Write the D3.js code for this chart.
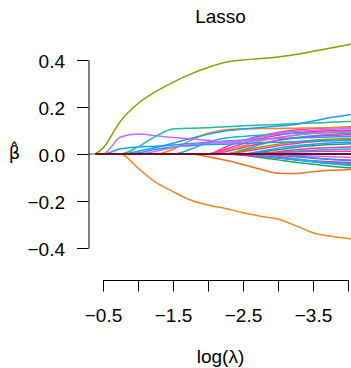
<!DOCTYPE html>
<html>
<head>
<meta charset="utf-8">
<script src="https://cdn.jsdelivr.net/npm/d3@7"></script>
<style>
    body { margin: 0; background: #fff; }
    svg { display: block; font-family: "Liberation Sans", Arial, sans-serif; }
</style>
</head>
<body>
<svg id="chart"></svg>
<script>
// log(lambda) grid shared by every coefficient path
const logLambda = [-0.39, -0.5, -0.75, -1, -1.25, -1.5, -1.75, -2, -2.25, -2.5, -2.75, -3, -3.25, -3.5, -3.75, -4, -4.1];

// coefficient paths (beta at each grid point)
const olive1 = [0, 0.025, 0.14, 0.215, 0.265, 0.305, 0.34, 0.368, 0.39, 0.4, 0.406, 0.413, 0.423, 0.437, 0.451, 0.465, 0.47];
const orange1 = [0, 0, 0, -0.06, -0.12, -0.16, -0.196, -0.217, -0.232, -0.25, -0.265, -0.277, -0.305, -0.335, -0.35, -0.36, -0.365];
const orangeRed = [0, 0, 0, 0, 0, 0, 0, -0.012, -0.027, -0.045, -0.065, -0.082, -0.083, -0.075, -0.069, -0.066, -0.065];
const purpleA = [0, 0, 0.072, 0.085, 0.078, 0.07, 0.065, 0.058, 0.052, 0.058, 0.072, 0.087, 0.096, 0.101, 0.105, 0.108, 0.109];
const purpleB = [0, 0, 0, 0, 0.012, 0.028, 0.04, 0.046, 0.047, 0.05, 0.06, 0.07, 0.08, 0.087, 0.092, 0.095, 0.096];
const teal1 = [0, 0, 0, 0.03, 0.075, 0.106, 0.11, 0.112, 0.116, 0.12, 0.123, 0.126, 0.129, 0.132, 0.135, 0.138, 0.139];
const blueTop = [0, 0, 0, 0.012, 0.028, 0.046, 0.066, 0.084, 0.098, 0.106, 0.113, 0.119, 0.126, 0.14, 0.155, 0.166, 0.171];
const blue2 = [0, 0, 0.022, 0.03, 0.033, 0.038, 0.045, 0.05, 0.055, 0.06, 0.063, 0.066, 0.068, 0.07, 0.072, 0.074, 0.075];
const blue3 = [0, 0, 0, 0.005, 0.02, 0.03, 0.035, 0.04, 0.042, 0.045, 0.048, 0.05, 0.052, 0.054, 0.056, 0.058, 0.059];
const orange2 = [0, 0, 0, 0, 0, 0.02, 0.058, 0.088, 0.103, 0.107, 0.108, 0.109, 0.11, 0.111, 0.112, 0.113, 0.113];
const cyan1 = [0, 0, 0, 0, 0, 0, 0.02, 0.05, 0.068, 0.075, 0.08, 0.085, 0.088, 0.09, 0.092, 0.094, 0.095];
const magenta1 = [0, 0, 0, 0, 0, 0, 0, 0, 0.03, 0.058, 0.078, 0.092, 0.102, 0.108, 0.112, 0.115, 0.116];
const magenta2 = [0, 0, 0, 0, 0, 0, 0, 0, 0.02, 0.045, 0.065, 0.08, 0.09, 0.096, 0.099, 0.101, 0.102];
const orange3 = [0, 0, 0, 0, 0, 0, 0, 0, 0.015, 0.035, 0.055, 0.07, 0.08, 0.088, 0.093, 0.097, 0.098];
const magenta3 = [0, 0, 0, 0, 0, 0, 0, 0, 0.01, 0.028, 0.045, 0.058, 0.068, 0.075, 0.079, 0.082, 0.083];
const olive2 = [0, 0, 0, 0, 0, 0, 0, 0, 0, 0.015, 0.03, 0.042, 0.052, 0.059, 0.063, 0.066, 0.067];
const teal2 = [0, 0, 0, 0, 0, 0, 0, 0, 0, 0.018, 0.04, 0.058, 0.07, 0.078, 0.084, 0.088, 0.09];
const magenta4 = [0, 0, 0, 0, 0, 0, 0, 0, 0, 0.01, 0.022, 0.035, 0.045, 0.052, 0.057, 0.06, 0.061];
const blue4 = [0, 0, 0, 0, 0, 0, 0, 0, 0, 0, 0.012, 0.025, 0.035, 0.042, 0.047, 0.05, 0.051];
const green1 = [0, 0, 0, 0, 0, 0, 0, 0, 0, 0, 0.008, 0.018, 0.028, 0.035, 0.04, 0.043, 0.044];
const magenta5 = [0, 0, 0, 0, 0, 0, 0, 0, 0, 0, 0, 0.01, 0.018, 0.024, 0.028, 0.03, 0.031];
const cyan2 = [0, 0, 0, 0, 0, 0, 0, 0, 0, 0, 0, 0.006, 0.012, 0.016, 0.019, 0.021, 0.022];
const magenta6 = [0, 0, 0, 0, 0, 0, 0, 0, 0, 0, 0.004, 0.007, 0.009, 0.011, 0.012, 0.012, 0.012];
const greenN1 = [0, 0, 0, 0, 0, 0, 0, 0, 0, -0.005, -0.015, -0.025, -0.035, -0.044, -0.052, -0.058, -0.06];
const greenN2 = [0, 0, 0, 0, 0, 0, 0, 0, 0, 0, -0.008, -0.016, -0.024, -0.031, -0.036, -0.04, -0.041];
const magentaN1 = [0, 0, 0, 0, 0, 0, 0, 0, 0, -0.004, -0.01, -0.017, -0.024, -0.029, -0.033, -0.036, -0.037];
const blueN1 = [0, 0, 0, 0, 0, 0, 0, 0, 0, 0, -0.006, -0.015, -0.025, -0.034, -0.042, -0.048, -0.05];
const cyanN1 = [0, 0, 0, 0, 0, 0, 0, 0, 0, 0, 0, -0.01, -0.02, -0.03, -0.038, -0.044, -0.046];
const magentaN2 = [0, 0, 0, 0, 0, 0, 0, 0, 0, 0, 0, -0.006, -0.012, -0.018, -0.022, -0.025, -0.026];
const purpleN1 = [0, 0, 0, 0, 0, 0, 0, 0, 0, 0, 0, 0, -0.005, -0.009, -0.012, -0.014, -0.015];
const blueN2 = [0, 0, 0, 0, 0, 0, 0, 0, 0, 0, 0, 0, -0.008, -0.016, -0.023, -0.028, -0.03];
const zeroPath = [0, 0, 0, 0, 0, 0, 0, 0, 0, 0, 0, 0, 0, 0, 0, 0, 0];

const seriesList = [
    greenN1, greenN2, magentaN1, blueN1, cyanN1, magentaN2, purpleN1, blueN2,
    magenta6, cyan2, magenta5, green1, blue4, magenta4, teal2, olive2, magenta3, orange3, magenta2, magenta1,
    cyan1, orange2, blue3, blue2, purpleB, purpleA, teal1, blueTop, orangeRed, orange1, olive1
];
const seriesColors = [
    "#14a85e", "#14a85e", "#ff2db4", "#1e9bff", "#13b5d6", "#ff2db4", "#c66bff", "#1e9bff",
    "#ff2db4", "#13b5d6", "#ff2db4", "#14a85e", "#1e9bff", "#ff2db4", "#17bfa0", "#86a300", "#ff2db4", "#eb8a1e", "#ff2db4", "#ff2db4",
    "#13b5d6", "#eb8a1e", "#1e9bff", "#1e9bff", "#c66bff", "#c66bff", "#17bfa0", "#1e9bff", "#ff6b1a", "#eb8a1e", "#86a300"
];

const xTicks = [-0.5, -1, -1.5, -2, -2.5, -3, -3.5, -4];
const xTickLabels = ["\u22120.5", "", "\u22121.5", "", "\u22122.5", "", "\u22123.5", ""];
const yTicks = [0.4, 0.2, 0, -0.2, -0.4];

const width = 351;
const height = 368;
const fontSize = 19;
const tickLength = 11.5;

const svg = d3.select("#chart").attr("width", width).attr("height", height);

const scaleX = d3.scaleLinear().domain([-0.5, -4]).range([103, 348]);
const scaleY = d3.scaleLinear().domain([-0.4, 0.4]).range([248, 60]);

const plotLeft = 89;

// grey zero reference line under the paths
svg.append("line")
    .attr("x1", plotLeft)
    .attr("x2", width)
    .attr("y1", scaleY(0))
    .attr("y2", scaleY(0))
    .attr("stroke", "#8c8c8c")
    .attr("stroke-width", 1.5);

const lineGenerator = d3
    .line()
    .x((d, i) => scaleX(logLambda[i]))
    .y((d) => scaleY(d))
    .curve(d3.curveMonotoneX);

svg.append("g")
    .attr("class", "paths")
    .selectAll("path")
    .data(seriesList)
    .join("path")
    .attr("fill", "none")
    .attr("stroke", (d, i) => seriesColors[i])
    .attr("stroke-width", 1.5)
    .attr("d", lineGenerator);

svg.append("path")
    .datum(zeroPath)
    .attr("fill", "none")
    .attr("stroke", "#7b0828")
    .attr("stroke-width", 2)
    .attr("d", lineGenerator);

const xAxis = d3
    .axisBottom(scaleX)
    .tickValues(xTicks)
    .tickFormat((d, i) => xTickLabels[i])
    .tickSize(tickLength)
    .tickSizeOuter(0)
    .tickPadding(17);

svg.append("g")
    .attr("class", "xAxis")
    .attr("transform", "translate(0, 280)")
    .call(xAxis);

const yAxis = d3
    .axisLeft(scaleY)
    .tickValues(yTicks)
    .tickFormat(d3.format(".1f"))
    .tickSize(tickLength)
    .tickSizeOuter(0)
    .tickPadding(12);

svg.append("g")
    .attr("class", "yAxis")
    .attr("transform", `translate(${plotLeft - 0.5}, 0)`)
    .call(yAxis);

svg.selectAll(".xAxis, .yAxis")
    .style("font-size", fontSize + "px")
    .style("font-family", "'Liberation Sans', Arial, sans-serif");
svg.selectAll(".xAxis path, .xAxis line, .yAxis path, .yAxis line").attr("stroke", "#000");
svg.selectAll(".xAxis text, .yAxis text").attr("fill", "#000");
svg.selectAll(".yAxis text").attr("dy", "0.37em");

svg.append("text")
    .attr("x", 220.5)
    .attr("y", 23)
    .attr("text-anchor", "middle")
    .style("font-size", fontSize + "px")
    .text("Lasso");

svg.append("text")
    .attr("x", 220.5)
    .attr("y", 363)
    .attr("text-anchor", "middle")
    .style("font-size", fontSize + "px")
    .text("log(\u03bb)");

svg.append("text")
    .attr("x", 14.5)
    .attr("y", 159)
    .attr("text-anchor", "middle")
    .style("font-size", "18px")
    .style("font-family", "'DejaVu Sans', sans-serif")
    .text("\u03b2\u0302");
</script>
</body>
</html>
